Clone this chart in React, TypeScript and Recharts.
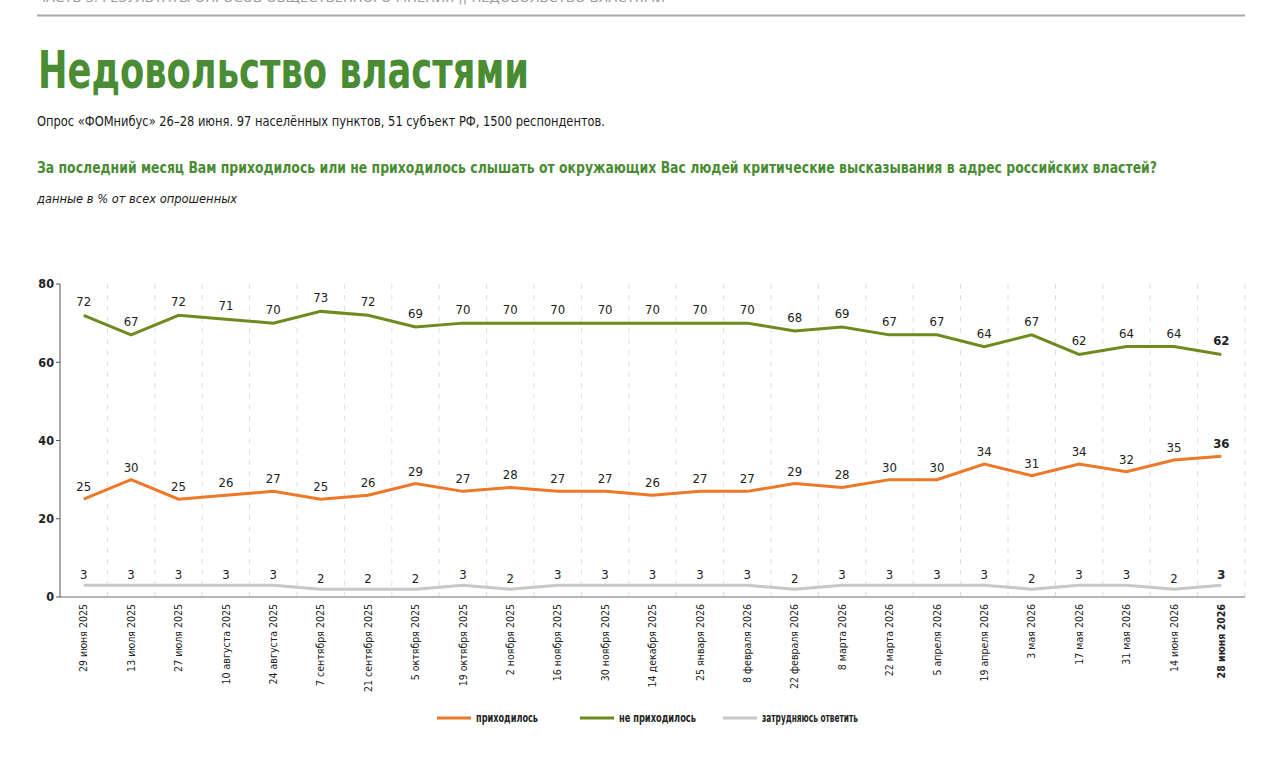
import React from "react";
import { ComposedChart, CartesianGrid, XAxis, YAxis, Line, LabelList } from "recharts";

const dates = [
  "29 июня 2025", "13 июля 2025", "27 июля 2025", "10 августа 2025", "24 августа 2025",
  "7 сентября 2025", "21 сентября 2025", "5 октября 2025", "19 октября 2025", "2 ноября 2025",
  "16 ноября 2025", "30 ноября 2025", "14 декабря 2025", "25 января 2026", "8 февраля 2026",
  "22 февраля 2026", "8 марта 2026", "22 марта 2026", "5 апреля 2026", "19 апреля 2026",
  "3 мая 2026", "17 мая 2026", "31 мая 2026", "14 июня 2026", "28 июня 2026",
];
const heard = [25, 30, 25, 26, 27, 25, 26, 29, 27, 28, 27, 27, 26, 27, 27, 29, 28, 30, 30, 34, 31, 34, 32, 35, 36];
const notHeard = [72, 67, 72, 71, 70, 73, 72, 69, 70, 70, 70, 70, 70, 70, 70, 68, 69, 67, 67, 64, 67, 62, 64, 64, 62];
const hardToSay = [3, 3, 3, 3, 3, 2, 2, 2, 3, 2, 3, 3, 3, 3, 3, 2, 3, 3, 3, 3, 2, 3, 3, 2, 3];
const yTicks = [0, 20, 40, 60, 80];

const data = dates.map((d, i) => ({ date: d, heard: heard[i], notHeard: notHeard[i], hard: hardToSay[i] }));

const ORANGE = "#ee7728";
const OLIVE = "#6f8a1e";
const GREY = "#c8c8c8";
const TITLE_GREEN = "#4a8c34";
const NARROW = "'Liberation Sans Narrow', 'DejaVu Sans Condensed', sans-serif";
const last = dates.length - 1;
// plot is 1185px wide, half a band on each side
const HALF_BAND = 1185 / dates.length / 2;

const makeLabel = (lift: number) => (props: any) => {
  const { x, y, value, index } = props;
  return (
    <text x={x} y={y - lift} textAnchor="middle" fontFamily={NARROW} fontSize={13}
      fill="#222" fontWeight={index === last ? 700 : 400}>
      {value}
    </text>
  );
};

const DateTick = (props: any) => {
  const { x, y, payload, index } = props;
  return (
    <g transform={`translate(${x},${y - 1})`}>
      <text transform="rotate(-90)" textAnchor="end" dy="0.35em" fontFamily={NARROW} fontSize={10.5}
        fill="#222" fontWeight={index === last ? 700 : 400}>
        {payload.value}
      </text>
    </g>
  );
};

const gridX = (p: any) => {
  const { left, width } = p.offset;
  const band = width / dates.length;
  return dates.map((_, i) => left + (i + 1) * band);
};

const legend = [
  { name: "приходилось", color: ORANGE, x: 437, w: 62 },
  { name: "не приходилось", color: OLIVE, x: 580, w: 77 },
  { name: "затрудняюсь ответить", color: GREY, x: 723, w: 96 },
];

export default function App() {
  return (
    <div style={{ position: "absolute", left: 0, top: 0, width: 1280, height: 765, background: "#fff", overflow: "hidden" }}>
      <svg width={1280} height={270} style={{ position: "absolute", left: 0, top: 0 }}>
        <text x={37} y={2} fontFamily={NARROW} fontSize={13} fill="#9a9a9a" textLength={628} lengthAdjust="spacingAndGlyphs">
          ЧАСТЬ 3. РЕЗУЛЬТАТЫ ОПРОСОВ ОБЩЕСТВЕННОГО МНЕНИЯ || НЕДОВОЛЬСТВО ВЛАСТЯМИ
        </text>
        <line x1={37} x2={1245} y1={15.5} y2={15.5} stroke="#a8a8a8" strokeWidth={2} />
        <text x={38} y={88} fontFamily={NARROW} fontSize={51} fontWeight={700} fill={TITLE_GREEN}
          textLength={491} lengthAdjust="spacingAndGlyphs">
          Недовольство властями
        </text>
        <text x={37} y={126} fontFamily={NARROW} fontSize={13.5} fill="#1a1a1a" textLength={568} lengthAdjust="spacingAndGlyphs">
          Опрос «ФОМнибус» 26–28 июня. 97 населённых пунктов, 51 субъект РФ, 1500 респондентов.
        </text>
        <text x={37} y={173} fontFamily={NARROW} fontSize={16} fontWeight={700} fill={TITLE_GREEN}
          textLength={1120} lengthAdjust="spacingAndGlyphs">
          За последний месяц Вам приходилось или не приходилось слышать от окружающих Вас людей критические высказывания в адрес российских властей?
        </text>
        <text x={37} y={203} fontFamily={NARROW} fontSize={13} fontStyle="italic" fill="#1a1a1a"
          textLength={200} lengthAdjust="spacingAndGlyphs">
          данные в % от всех опрошенных
        </text>
      </svg>

      <div style={{ position: "absolute", left: 0, top: 270 }}>
        <ComposedChart width={1280} height={440} data={data} margin={{ top: 14, right: 35, left: 20, bottom: 0 }}>
          <CartesianGrid horizontal={false} strokeDasharray="5 6" stroke="#dedede" verticalCoordinatesGenerator={gridX} />
          <XAxis dataKey="date" interval={0} height={113} tickLine={false} padding={{ left: HALF_BAND, right: HALF_BAND }}
            axisLine={{ stroke: "#b5b5b5", strokeWidth: 2 }} tick={<DateTick />} />
          <YAxis domain={[0, 80]} ticks={yTicks} width={40} axisLine={{ stroke: "#555" }} tickLine={{ stroke: "#555" }} tickSize={4}
            tick={{ fill: "#222", fontSize: 12.5, fontFamily: NARROW, fontWeight: 700 }} />
          <Line type="linear" dataKey="notHeard" stroke={OLIVE} strokeWidth={3} dot={false} isAnimationActive={false}>
            <LabelList dataKey="notHeard" content={makeLabel(9)} />
          </Line>
          <Line type="linear" dataKey="heard" stroke={ORANGE} strokeWidth={3} dot={false} isAnimationActive={false}>
            <LabelList dataKey="heard" content={makeLabel(8)} />
          </Line>
          <Line type="linear" dataKey="hard" stroke={GREY} strokeWidth={3} dot={false} isAnimationActive={false}>
            <LabelList dataKey="hard" content={makeLabel(6)} />
          </Line>
        </ComposedChart>
      </div>

      <svg width={1280} height={40} style={{ position: "absolute", left: 0, top: 700 }}>
        {legend.map((l) => (
          <g key={l.name}>
            <line x1={l.x} x2={l.x + 34} y1={18} y2={18} stroke={l.color} strokeWidth={3} />
            <text x={l.x + 39} y={22} fontFamily={NARROW} fontSize={11.5} fontWeight={700} fill="#222"
              textLength={l.w} lengthAdjust="spacingAndGlyphs">
              {l.name}
            </text>
          </g>
        ))}
      </svg>
    </div>
  );
}
